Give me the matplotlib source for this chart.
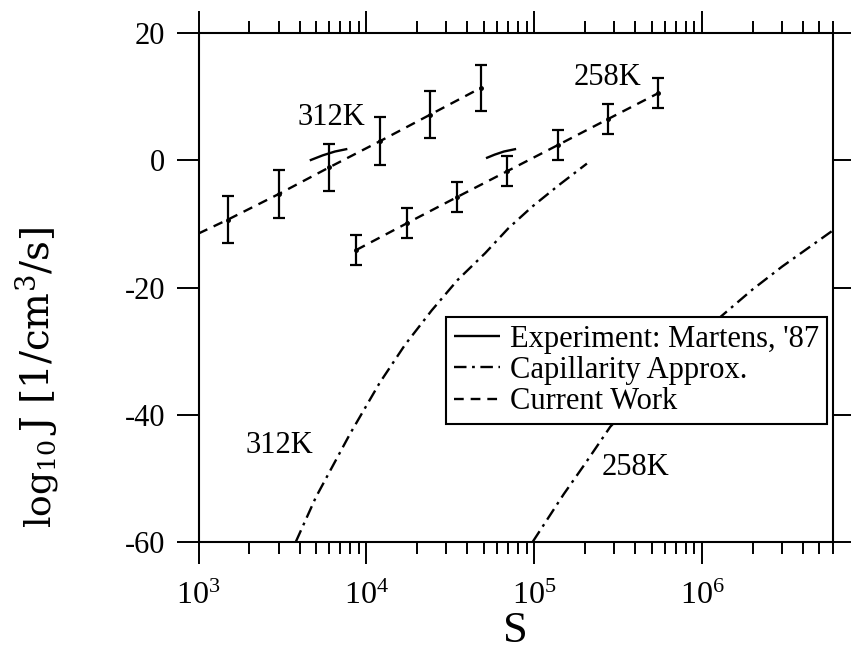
import matplotlib
matplotlib.use("Agg")
import matplotlib.pyplot as plt
from matplotlib.ticker import LogLocator, FixedLocator, NullFormatter, LogFormatterMathtext

plt.rcParams['font.family'] = ['Liberation Serif', 'DejaVu Serif']
plt.rcParams['mathtext.fontset'] = 'custom'
plt.rcParams['mathtext.rm'] = 'Liberation Serif'
plt.rcParams['mathtext.it'] = 'Liberation Serif:italic'
plt.rcParams['axes.unicode_minus'] = False
plt.rcParams['lines.scale_dashes'] = False

# ---- data ----
S_312 = [1500, 3000, 6000, 12000, 24000, 48000]
J_312 = [-9.3, -5.3, -1.1, 3.0, 7.2, 11.4]
err_312 = [3.7, 3.75, 3.75, 3.8, 3.75, 3.65]
S_312_line = [1000, 1500, 3000, 6000, 12000, 24000, 48000]
J_312_line = [-11.5, -9.3, -5.3, -1.1, 3.0, 7.2, 11.4]

S_258 = [8700, 17400, 34500, 69000, 138000, 275000, 550000]
J_258 = [-14.1, -9.9, -5.8, -1.7, 2.4, 6.5, 10.6]
err_258 = [2.35, 2.35, 2.35, 2.35, 2.35, 2.3, 2.3]

S_exp_312 = [4600, 5500, 6500, 7700]
J_exp_312 = [0.0, 0.8, 1.4, 1.8]
S_exp_258 = [51600, 58000, 66000, 78000]
J_exp_258 = [0.35, 0.9, 1.4, 1.8]

S_cap_312 = [3800, 5000, 8000, 12000, 17000, 24500, 35000, 51000, 70000, 97000, 140000, 206000]
J_cap_312 = [-60, -53, -43, -35, -29, -23.6, -18.8, -14.6, -10.7, -7.3, -3.9, -0.5]
S_cap_258 = [98000, 150000, 200000, 284000, 500000, 1000000, 2000000, 3000000, 6030000]
J_cap_258 = [-60, -52.5, -47.8, -41.9, -35.1, -27.1, -20.3, -16.7, -11.0]

x_ticks = [1e3, 1e4, 1e5, 1e6]
y_ticks = [-60, -40, -20, 0, 20]
legend_labels = ["Experiment: Martens, '87", "Capillarity Approx.", "Current Work"]

# ---- figure ----
fig = plt.figure(figsize=(8.51, 6.58), dpi=100)
ax = fig.add_axes([0.2333, 0.1767, 0.7456, 0.7727])

lw = 1.7
dash = (7, 5)
dashdot = (9, 4, 2, 4)

# experiment
l_exp, = ax.plot(S_exp_312, J_exp_312, color='black', lw=lw, solid_capstyle='butt')
ax.plot(S_exp_258, J_exp_258, color='black', lw=lw, solid_capstyle='butt')

# capillarity
l_cap, = ax.plot(S_cap_312, J_cap_312, color='black', lw=lw, dashes=dashdot)
ax.plot(S_cap_258, J_cap_258, color='black', lw=lw, dashes=dashdot)

# current work
l_cur, = ax.plot(S_312_line, J_312_line, color='black', lw=lw, dashes=dash)
ax.plot(S_258, J_258, color='black', lw=lw, dashes=dash)
ax.errorbar(S_312, J_312, yerr=err_312, fmt='o', ms=2.5, color='black',
            elinewidth=1.6, capsize=4.2, capthick=1.6)
ax.errorbar(S_258, J_258, yerr=err_258, fmt='o', ms=2.5, color='black',
            elinewidth=1.6, capsize=4.2, capthick=1.6)

# labels on curves
ax.text(3873, 5.6, "312K", fontsize=22, ha='left', va='baseline')
ax.text(171400, 11.9, "258K", fontsize=22, ha='left', va='baseline')
ax.text(4830, -46.0, "312K", fontsize=22, ha='right', va='baseline')
ax.text(253000, -49.5, "258K", fontsize=22, ha='left', va='baseline')

ax.set_xscale('log')
ax.set_xlim(1e3, 6.03e6)
ax.set_ylim(-60, 20)

ax.xaxis.set_major_locator(FixedLocator(x_ticks))
ax.xaxis.set_major_formatter(LogFormatterMathtext())
ax.xaxis.set_minor_locator(LogLocator(base=10, subs=range(2, 10), numticks=20))
ax.xaxis.set_minor_formatter(NullFormatter())
ax.yaxis.set_major_locator(FixedLocator(y_ticks))

ax.tick_params(which='both', direction='out', top=True, right=True, width=1.4)
ax.tick_params(which='major', length=16)
ax.tick_params(which='minor', length=8.5)
ax.tick_params(axis='x', which='major', labelsize=23, pad=13)
ax.tick_params(axis='y', which='major', labelsize=22, pad=8)
for sp in ax.spines.values():
    sp.set_linewidth(1.5)

ax.set_xlabel("S", fontsize=32, labelpad=0)

# y label: large "log10" followed by "J [1/cm3/s]"
x0, y0 = 0.0588, 0.1976
t1 = fig.text(x0, y0, r"log$_{\mathregular{10}}$", fontsize=26, rotation=90,
              family='DejaVu Serif', rotation_mode='anchor', ha='left', va='baseline')
fig.canvas.draw()
bb = t1.get_window_extent(renderer=fig.canvas.get_renderer())
h1 = bb.height / fig.bbox.height
fig.text(x0, y0 + h1 + 0.006, r"J [1/cm$^{\mathregular{3}}$/s]", fontsize=28, rotation=90,
         family='DejaVu Serif', rotation_mode='anchor', ha='left', va='baseline')

leg = ax.legend([l_exp, l_cap, l_cur], legend_labels, loc='lower right',
                bbox_to_anchor=(0.9905, 0.2315), borderaxespad=0, fontsize=22,
                frameon=True, fancybox=False, framealpha=1, edgecolor='black',
                handlelength=1.5, handletextpad=0.35, borderpad=0.25,
                labelspacing=0.08)
leg.get_frame().set_linewidth(1.5)
leg.set_zorder(10)

fig.savefig("out.png", dpi=100)
